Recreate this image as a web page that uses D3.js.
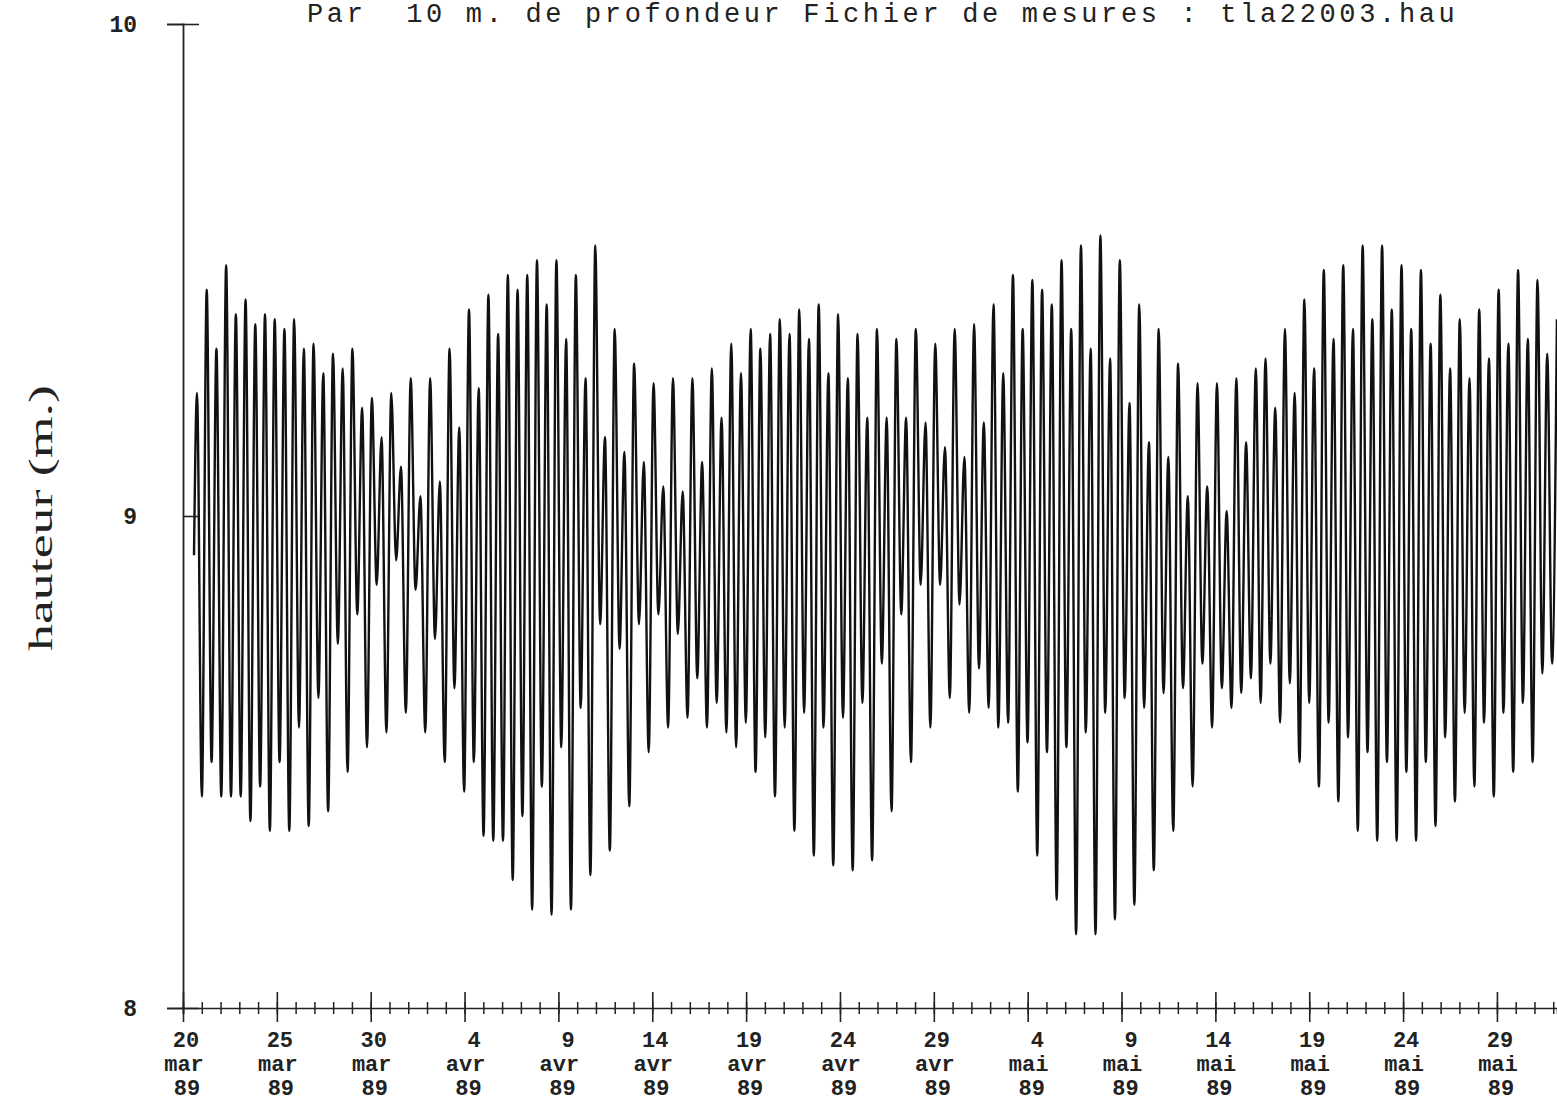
<!DOCTYPE html>
<html>
<head>
<meta charset="utf-8">
<script src="https://cdn.jsdelivr.net/npm/d3@7"></script>
<style>
  body { margin: 0; background: #fff; }
  svg { display: block; }
  .mono { font-family: "Liberation Mono", "Courier New", monospace; }
</style>
</head>
<body>
<div id="chart"></div>
<script>
// maree : hauteurs des pleines mers / basses mers
const titleText = "Par  10 m. de profondeur Fichier de mesures : tla22003.hau"
const yLabel = "hauteur (m.)"
const yTicks = [8, 9, 10]
const monthNames = ["jan", "fev", "mar", "avr", "mai", "jun"]

const startValue = 8.92
const highs = [
    9.25, 9.46, 9.34, 9.51, 9.41, 9.44, 9.39, 9.41, 9.40, 9.38, 9.40, 9.34, 9.35, 9.29, 9.33, 9.30, 9.34, 9.22,
    9.24, 9.16, 9.25, 9.10, 9.28, 9.04, 9.28, 9.07, 9.34, 9.18, 9.42, 9.26, 9.45, 9.37, 9.49, 9.46, 9.49, 9.52,
    9.43, 9.52, 9.36, 9.49, 9.28, 9.55, 9.16, 9.38, 9.13, 9.31, 9.11, 9.27, 9.06, 9.28, 9.05, 9.28, 9.11, 9.30,
    9.20, 9.35, 9.29, 9.38, 9.34, 9.37, 9.40, 9.37, 9.42, 9.36, 9.43, 9.29, 9.41, 9.28, 9.37, 9.20, 9.38, 9.20, 9.36,
    9.20, 9.38, 9.19, 9.35, 9.14, 9.38, 9.12, 9.39, 9.19, 9.43, 9.29, 9.49, 9.38, 9.48, 9.46, 9.43, 9.52, 9.38, 9.55,
    9.34, 9.57, 9.32, 9.52, 9.23, 9.43, 9.15, 9.38, 9.12, 9.31, 9.04, 9.27, 9.06, 9.27, 9.01, 9.28, 9.15, 9.30,
    9.32, 9.22, 9.38, 9.25, 9.44, 9.30, 9.50, 9.36, 9.51, 9.38, 9.55, 9.40, 9.55, 9.42, 9.51, 9.38,
    9.50, 9.35, 9.45, 9.30, 9.40, 9.28, 9.42, 9.32, 9.46, 9.35, 9.50, 9.36, 9.48, 9.33, 9.40
]
const lows = [
    8.43, 8.50, 8.43, 8.43, 8.43, 8.38, 8.45, 8.36, 8.50, 8.36, 8.57, 8.37, 8.63, 8.40, 8.74, 8.48, 8.80,
    8.53, 8.86, 8.56, 8.91, 8.60, 8.85, 8.56, 8.75, 8.50, 8.65, 8.44, 8.50, 8.35, 8.34, 8.34, 8.26, 8.39, 8.20,
    8.45, 8.19, 8.53, 8.20, 8.61, 8.27, 8.78, 8.32, 8.73, 8.41, 8.78, 8.52, 8.80, 8.57, 8.76, 8.59, 8.67, 8.57, 8.62,
    8.56, 8.53, 8.58, 8.48, 8.55, 8.43, 8.57, 8.36, 8.60, 8.31, 8.57, 8.29, 8.59, 8.28, 8.62, 8.30, 8.70, 8.40, 8.80,
    8.50, 8.86, 8.57, 8.86, 8.63, 8.82, 8.60, 8.69, 8.61, 8.57, 8.58, 8.44, 8.54, 8.31, 8.52, 8.22, 8.53, 8.15,
    8.56, 8.15, 8.60, 8.18, 8.63, 8.21, 8.61, 8.28, 8.64, 8.36, 8.65, 8.45, 8.70, 8.57, 8.65, 8.61, 8.64, 8.67,
    8.62, 8.70, 8.58, 8.66, 8.50, 8.62, 8.45, 8.58, 8.42, 8.55, 8.36, 8.52, 8.34, 8.50, 8.34, 8.48,
    8.34, 8.50, 8.37, 8.55, 8.42, 8.60, 8.45, 8.58, 8.43, 8.60, 8.48, 8.62, 8.50, 8.68, 8.70
]

const day = 24 * 3600 * 1000
const t0 = Date.UTC(1989, 2, 20)
const firstHigh = t0 + 0.746 * day
const period = 12.42 * 3600 * 1000

const series = [{ t: new Date(t0 + 0.586 * day), v: startValue }]
highs.forEach((h, i) => {
    series.push({ t: new Date(firstHigh + i * period), v: h })
    if (i < lows.length) series.push({ t: new Date(firstHigh + (i + 0.5) * period), v: lows[i] })
})

const W = 1557, H = 1102
const margin = { top: 24, right: 0, bottom: 94, left: 183 }

const svg = d3.select("#chart").append("svg")
    .attr("width", W)
    .attr("height", H)

svg.append("rect").attr("width", W).attr("height", H).attr("fill", "#fff")

const x = d3.scaleUtc()
    .domain([new Date(t0), new Date(t0 + 73.2 * day)])
    .range([margin.left, W - margin.right])

const y = d3.scaleLinear()
    .domain([8, 10])
    .range([H - margin.bottom, margin.top])

svg.append("clipPath").attr("id", "clip")
    .append("rect")
    .attr("x", margin.left).attr("y", 0)
    .attr("width", W - margin.left).attr("height", H)

const line = d3.line()
    .x(d => x(d.t))
    .y(d => y(d.v))
    .curve(d3.curveMonotoneX)

svg.append("path")
    .datum(series)
    .attr("clip-path", "url(#clip)")
    .attr("fill", "none")
    .attr("stroke", "#111")
    .attr("stroke-width", 2.4)
    .attr("d", line)

// axe des x : un petit trait par jour, un grand tous les 5 jours
const end = new Date(t0 + 73.2 * day)
const minorDays = d3.utcDay.range(new Date(t0), end)
const majorDays = d3.utcDay.range(new Date(t0), end, 5)

const xMinor = svg.append("g")
    .attr("transform", `translate(0,${y(8)})`)
    .call(d3.axisBottom(x).tickValues(minorDays).tickSize(6).tickFormat(""))
xMinor.select(".domain").attr("stroke", "#222").attr("stroke-width", 1.6)
xMinor.selectAll(".tick line").attr("y1", -6).attr("stroke", "#222").attr("stroke-width", 1.5)

const xMajor = svg.append("g")
    .attr("transform", `translate(0,${y(8)})`)
    .call(d3.axisBottom(x).tickValues(majorDays).tickSize(14).tickFormat(""))
xMajor.select(".domain").remove()
xMajor.selectAll(".tick line").attr("y1", -16).attr("stroke", "#222").attr("stroke-width", 1.6)

const labels = svg.append("g").attr("class", "mono")
    .attr("font-size", 22).attr("font-weight", "bold").attr("fill", "#222")
    .attr("text-anchor", "middle")

majorDays.forEach(d => {
    const px = x(d) + 3
    const dd = String(d.getUTCDate()).padStart(2, " ")
    labels.append("text").attr("x", px).attr("y", 1047)
        .attr("xml:space", "preserve").style("white-space", "pre").text(dd)
    labels.append("text").attr("x", px - 2).attr("y", 1071).text(monthNames[d.getUTCMonth()])
    labels.append("text").attr("x", px + 1).attr("y", 1095).text(String(d.getUTCFullYear()).slice(2))
})

// axe des y
const yAxis = svg.append("g")
    .attr("transform", `translate(${margin.left},0)`)
    .call(d3.axisLeft(y).tickValues(yTicks).tickSize(16).tickPadding(30).tickFormat(d3.format("d")))
yAxis.select(".domain").attr("stroke", "#222").attr("stroke-width", 1.8)
yAxis.selectAll(".tick line").attr("x2", 16).attr("stroke", "#222").attr("stroke-width", 1.6)
yAxis.selectAll(".tick text")
    .attr("class", "mono")
    .attr("font-size", 23).attr("font-weight", "bold").attr("fill", "#222")
    .attr("font-family", "Liberation Mono, monospace")

svg.append("text")
    .attr("transform", "translate(52,518) rotate(-90)")
    .attr("text-anchor", "middle")
    .attr("font-family", "Liberation Serif, Times New Roman, serif")
    .attr("font-size", 34)
    .attr("textLength", 266)
    .attr("lengthAdjust", "spacingAndGlyphs")
    .attr("fill", "#222")
    .text(yLabel)

svg.append("text")
    .attr("class", "mono")
    .attr("x", 307).attr("y", 22)
    .attr("font-size", 27)
    .attr("letter-spacing", 3.65)
    .attr("fill", "#222")
    .attr("xml:space", "preserve")
    .style("white-space", "pre")
    .text(titleText)
</script>
</body>
</html>
